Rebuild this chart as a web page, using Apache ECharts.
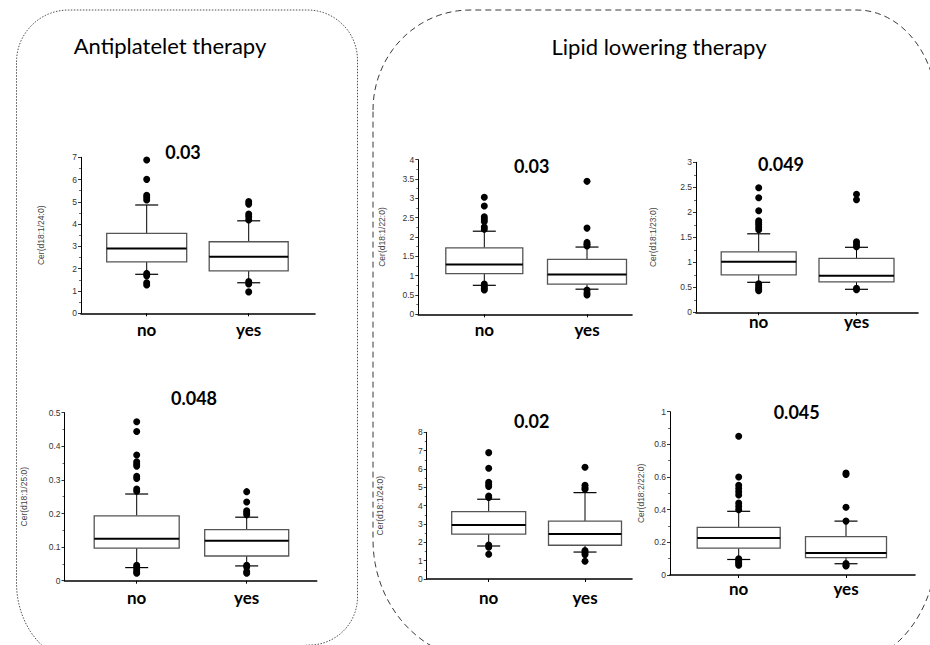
<!DOCTYPE html>
<html><head><meta charset="utf-8">
<script src="https://cdn.jsdelivr.net/npm/echarts@6/dist/echarts.min.js"></script>
<style>html,body{margin:0;padding:0;background:#fff}#c{width:930px;height:645px}</style>
</head><body><div id="c"></div>
<script>
const categories = ['no', 'yes'];
const groupTitles = ['Antiplatelet therapy', 'Lipid lowering therapy'];
const pValues = ['0.03', '0.048', '0.03', '0.049', '0.02', '0.045'];
const yNames = ['Cer(d18:1/24:0)', 'Cer(d18:1/25:0)', 'Cer(d18:1/22:0)', 'Cer(d18:1/23:0)', 'Cer(d18:1/24:0)', 'Cer(d18:2/22:0)'];
const yMax = [7, 0.5, 4, 3, 8, 1];
const yStep = [1, 0.1, 0.5, 0.5, 1, 0.2];

// box stats: [lower whisker, Q1, median, Q3, upper whisker]
// Antiplatelet therapy – Cer(d18:1/24:0)
const box1No = [1.75, 2.31, 2.91, 3.59, 4.86];
const box1Yes = [1.37, 1.90, 2.54, 3.21, 4.15];
const out1No = [6.88, 6.01, 5.30, 5.20, 5.08, 1.79, 1.68, 1.37, 1.27];
const out1Yes = [5.01, 4.90, 4.45, 4.33, 4.19, 1.42, 1.32, 0.96];
// Antiplatelet therapy – Cer(d18:1/25:0)
const box2No = [0.039, 0.097, 0.125, 0.193, 0.258];
const box2Yes = [0.044, 0.0735, 0.119, 0.152, 0.189];
const out2No = [0.473, 0.444, 0.374, 0.354, 0.347, 0.341, 0.311, 0.304, 0.273, 0.266, 0.046, 0.041, 0.034, 0.027, 0.022];
const out2Yes = [0.265, 0.234, 0.208, 0.202, 0.196, 0.046, 0.041, 0.027, 0.022];
// Lipid lowering therapy – Cer(d18:1/22:0)
const box3No = [0.75, 1.05, 1.29, 1.72, 2.15];
const box3Yes = [0.65, 0.78, 1.03, 1.42, 1.74];
const out3No = [3.03, 2.80, 2.52, 2.46, 2.40, 2.26, 2.20, 0.78, 0.72, 0.67, 0.63];
const out3Yes = [3.44, 2.23, 1.86, 1.81, 1.77, 0.63, 0.55, 0.50];
// Lipid lowering therapy – Cer(d18:1/23:0)
const box4No = [0.60, 0.75, 1.01, 1.21, 1.57];
const box4Yes = [0.46, 0.61, 0.73, 1.08, 1.30];
const out4No = [2.49, 2.29, 2.03, 1.83, 1.79, 1.75, 1.70, 1.65, 0.57, 0.53, 0.49, 0.46, 0.43];
const out4Yes = [2.36, 2.25, 1.41, 1.36, 1.31, 0.48, 0.45];
// Lipid lowering therapy – Cer(d18:1/24:0)
const box5No = [1.80, 2.45, 2.95, 3.67, 4.35];
const box5Yes = [1.47, 1.84, 2.45, 3.16, 4.71];
const out5No = [6.89, 6.04, 5.28, 5.16, 5.04, 4.53, 4.44, 1.85, 1.73, 1.35];
const out5Yes = [6.09, 5.11, 4.98, 4.89, 1.55, 1.45, 1.33, 0.97];
// Lipid lowering therapy – Cer(d18:2/22:0)
const box6No = [0.095, 0.164, 0.227, 0.292, 0.39];
const box6Yes = [0.069, 0.107, 0.135, 0.235, 0.33];
const out6No = [0.85, 0.60, 0.55, 0.53, 0.51, 0.49, 0.44, 0.42, 0.40, 0.10, 0.09, 0.08, 0.07, 0.06];
const out6Yes = [0.625, 0.615, 0.415, 0.33, 0.07, 0.06, 0.055];

const boxes = [[box1No, box1Yes], [box2No, box2Yes], [box3No, box3Yes], [box4No, box4Yes], [box5No, box5Yes], [box6No, box6Yes]];
const outliers = [[out1No, out1Yes], [out2No, out2Yes], [out3No, out3Yes], [out4No, out4Yes], [out5No, out5Yes], [out6No, out6Yes]];

// layout (pixels)
const layout = [
  {left: 81, right: 315, top: 157.3, bottom: 313.3, noX: 146.7, yesX: 248.7, boxW: [80, 79], nameGap: 36, labelMargin: 8, title: [183, 152]},
  {left: 64.5, right: 316.7, top: 412.7, bottom: 580.7, noX: 136.7, yesX: 246.7, boxW: [85, 84], nameGap: 36, labelMargin: 8, title: [194, 398]},
  {left: 418.3, right: 632, top: 159.7, bottom: 314.3, noX: 484.3, yesX: 587, boxW: [77, 79], nameGap: 32, labelMargin: 7, title: [531.7, 166]},
  {left: 696, right: 918, top: 162.3, bottom: 312.3, noX: 758.7, yesX: 856.5, boxW: [75, 75], nameGap: 39, labelMargin: 1, title: [781, 164]},
  {left: 426.7, right: 632, top: 432.3, bottom: 579, noX: 488.7, yesX: 585, boxW: [74, 73], nameGap: 42, labelMargin: 10, title: [531.7, 420.7]},
  {left: 670, right: 915, top: 411.7, bottom: 575, noX: 738.7, yesX: 846, boxW: [83, 81], nameGap: 25, labelMargin: 5, title: [796.7, 412.3]}
];

const FONT = 'Lato, "Open Sans", sans-serif';
const AXFONT = '"Liberation Sans", Arial, sans-serif';

function makeRender(boxW) {
  return function (params, api) {
    const x = api.value(0);
    const pLo = api.coord([x, api.value(1)]);
    const pQ1 = api.coord([x, api.value(2)]);
    const pMed = api.coord([x, api.value(3)]);
    const pQ3 = api.coord([x, api.value(4)]);
    const pHi = api.coord([x, api.value(5)]);
    const cx = pLo[0];
    const w = boxW[params.dataIndex];
    const cw = 11.5;
    const ws = {stroke: '#000', lineWidth: 1};
    return {
      type: 'group',
      children: [
        {type: 'line', shape: {x1: cx, y1: pHi[1], x2: cx, y2: pQ3[1]}, style: ws},
        {type: 'line', shape: {x1: cx, y1: pQ1[1], x2: cx, y2: pLo[1]}, style: ws},
        {type: 'line', shape: {x1: cx - cw, y1: pHi[1], x2: cx + cw, y2: pHi[1]}, style: {stroke: '#000', lineWidth: 1.2}},
        {type: 'line', shape: {x1: cx - cw, y1: pLo[1], x2: cx + cw, y2: pLo[1]}, style: {stroke: '#000', lineWidth: 1.2}},
        {type: 'rect', shape: {x: cx - w / 2, y: pQ3[1], width: w, height: pQ1[1] - pQ3[1]}, style: {fill: '#fff', stroke: '#555', lineWidth: 1.3}},
        {type: 'line', shape: {x1: cx - w / 2, y1: pMed[1], x2: cx + w / 2, y2: pMed[1]}, style: {stroke: '#000', lineWidth: 2}}
      ]
    };
  };
}

const grids = [], xAxes = [], yAxes = [], series = [];
layout.forEach((L, i) => {
  const u = L.yesX - L.noX;
  grids.push({left: L.left, top: L.top, width: L.right - L.left, height: L.bottom - L.top, containLabel: false});
  xAxes.push({
    gridIndex: i, type: 'value',
    min: 1 - (L.noX - L.left) / u, max: 2 + (L.right - L.yesX) / u,
    axisLine: {show: true, onZero: false, lineStyle: {color: '#000', width: 1.6}},
    axisTick: {show: true, customValues: [1, 2], length: 3, lineStyle: {color: '#000', width: 1}},
    axisLabel: {show: true, customValues: [1, 2], formatter: v => categories[Math.round(v) - 1],
      fontFamily: FONT, fontWeight: 'bold', fontSize: 17, color: '#000', margin: L.labelMargin},
    splitLine: {show: false}, minorTick: {show: false}
  });
  yAxes.push({
    gridIndex: i, type: 'value', min: 0, max: yMax[i], interval: yStep[i],
    axisLine: {show: true, onZero: false, lineStyle: {color: '#000', width: 1}},
    axisTick: {show: true, length: 3, lineStyle: {color: '#000', width: 0.8}},
    minorTick: {show: true, splitNumber: 2, length: 2, lineStyle: {color: '#000', width: 0.6}},
    axisLabel: {fontFamily: AXFONT, fontSize: 8.5, color: '#333', margin: 4},
    splitLine: {show: false},
    name: yNames[i], nameLocation: 'middle', nameRotate: 90, nameGap: L.nameGap,
    nameTextStyle: {fontFamily: AXFONT, fontSize: 8.5, color: '#444'}
  });
  series.push({
    type: 'custom', xAxisIndex: i, yAxisIndex: i, renderItem: makeRender(L.boxW),
    data: boxes[i].map((b, k) => [k + 1].concat(b)),
    encode: {x: 0, y: [1, 2, 3, 4, 5]}, z: 2, silent: true
  });
  series.push({
    type: 'scatter', xAxisIndex: i, yAxisIndex: i, symbol: 'circle', symbolSize: 7,
    itemStyle: {color: '#000', opacity: 1}, z: 3, silent: true,
    data: outliers[i][0].map(v => [1, v]).concat(outliers[i][1].map(v => [2, v]))
  });
});

// rounded frame outline: points or ellipse arcs (cx, cy, rx, ry, a0, a1)
function framePoints(parts) {
  const pts = [];
  parts.forEach(p => {
    if (p.length === 2) { pts.push(p); return; }
    const [cx, cy, rx, ry, a0, a1] = p;
    const n = 24;
    for (let k = 0; k <= n; k++) {
      const a = (a0 + (a1 - a0) * k / n) * Math.PI / 180;
      pts.push([cx + rx * Math.cos(a), cy + ry * Math.sin(a)]);
    }
  });
  return pts;
}
const leftFrame = framePoints([
  [68.5, 62, 52, 52, 180, 270],
  [307.5, 60, 50, 50, 270, 360],
  [309.5, 597, 48, 48, 0, 90],
  [84.5, 583, 68, 80, 90, 180],
  [16.5, 62]
]);
const rightFrame = framePoints([
  [470, 110, 97, 100, 180, 270],
  [857, 110, 80, 100, 270, 360],
  [842, 545, 95, 120, 0, 90],
  [483, 540, 110, 120, 90, 180],
  [373, 110]
]);

const graphic = [
  {type: 'polyline', silent: true, z: 0, shape: {points: leftFrame},
    style: {fill: null, stroke: '#222', lineWidth: 0.8, lineDash: [1.5, 1.5]}},
  {type: 'polyline', silent: true, z: 0, shape: {points: rightFrame},
    style: {fill: null, stroke: '#222', lineWidth: 0.9, lineDash: [6, 4]}},
  {type: 'text', x: 170, y: 45, silent: true,
    style: {text: groupTitles[0], font: '22px ' + FONT, fill: '#000', align: 'center', verticalAlign: 'middle'}},
  {type: 'text', x: 659, y: 46, silent: true,
    style: {text: groupTitles[1], font: '22px ' + FONT, fill: '#000', align: 'center', verticalAlign: 'middle'}}
];
layout.forEach((L, i) => {
  graphic.push({type: 'text', x: L.title[0], y: L.title[1], silent: true,
    style: {text: pValues[i], font: 'bold 18px ' + FONT, fill: '#000', align: 'center', verticalAlign: 'middle'}});
});

const chart = echarts.init(document.getElementById('c'), null, {renderer: 'svg'});
chart.setOption({
  animation: false,
  backgroundColor: '#fff',
  grid: grids, xAxis: xAxes, yAxis: yAxes, series: series, graphic: graphic
});
</script></body></html>
